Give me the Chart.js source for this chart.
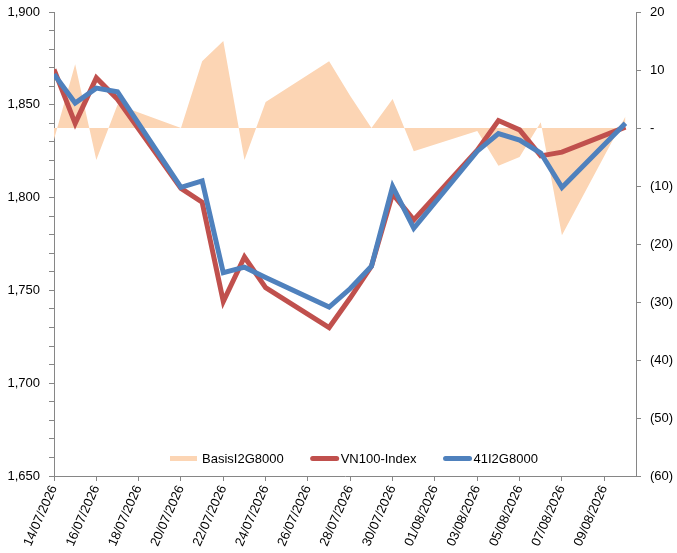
<!DOCTYPE html>
<html>
<head>
<meta charset="utf-8">
<script src="https://cdn.jsdelivr.net/npm/chart.js@4.4.1/dist/chart.umd.min.js"></script>
<style>
  html, body { margin: 0; padding: 0; background: #fff; }
  #wrap { width: 677px; height: 553px; }
</style>
</head>
<body>
<div id="wrap"><canvas id="basisChart" width="677" height="553"></canvas></div>
<script>
// =======================
// Data (trading days only)
// =======================
const tradeDates = [
  "14/07/2026", "15/07/2026", "16/07/2026", "17/07/2026",
  "20/07/2026", "21/07/2026", "22/07/2026", "23/07/2026", "24/07/2026",
  "27/07/2026", "28/07/2026", "29/07/2026", "30/07/2026", "31/07/2026",
  "03/08/2026", "04/08/2026", "05/08/2026", "06/08/2026", "07/08/2026",
  "10/08/2026"
];
const vn100Index = [
  1869, 1840, 1864.5, 1853,
  1805, 1797.5, 1744, 1768, 1751.5,
  1730, 1746, 1763, 1802, 1788,
  1825.5, 1841.5, 1836.5, 1822.5, 1824.5,
  1838
];
const fut41I2G8000 = [
  1866.5, 1851, 1859, 1857,
  1805.5, 1809, 1759.5, 1762.5, 1757,
  1741, 1751, 1763, 1806, 1783.5,
  1825, 1834.5, 1831, 1824, 1805.5,
  1840
];
const basisI2G8000 = [
  -2, 11, -5.5, 4,
  0, 11.5, 15, -5.5, 4.5,
  11.5, 5.5, 0, 5, -4,
  -0.5, -6.5, -5, 1, -18.5,
  2
];
const xTickLabels = [
  "14/07/2026", "16/07/2026", "18/07/2026", "20/07/2026", "22/07/2026",
  "24/07/2026", "26/07/2026", "28/07/2026", "30/07/2026", "01/08/2026",
  "03/08/2026", "05/08/2026", "07/08/2026", "09/08/2026"
];
const seriesNames = ["BasisI2G8000", "VN100-Index", "41I2G8000"];

// =======================
// Helpers
// =======================
function toUTC(s){ const [d,m,y]=s.split("/").map(Number); return Date.UTC(y,m-1,d); }
const baseDay = toUTC(tradeDates[0]);
function dayOffset(s){ return Math.round((toUTC(s)-baseDay)/86400000); }
function toPoints(vals){ return vals.map((v,i)=>({ x: dayOffset(tradeDates[i]), y: v })); }
function fmtRight(v){ return v===0 ? "-" : v<0 ? `(${-v})` : String(v); }
// fixed axis width, and no extra top/bottom padding from the tick labels
function fitY(w){ return s => { s.width = w; s.paddingTop = 0; s.paddingBottom = 0; }; }

const FONT = { family: "'Liberation Sans', Arial, sans-serif", size: 13 };
const AXIS_GREY = "#868686";
const PEACH = "rgb(252,213,180)";
const RED = "#C0504D";
const BLUE = "#4F81BD";

// legend drawn inside the plot, near the bottom
const innerLegend = {
  id: "innerLegend",
  afterDatasetsDraw(chart){
    const ctx = chart.ctx;
    const colors = [PEACH, RED, BLUE];
    let x = 170;
    const y = 458.5;
    ctx.save();
    ctx.font = `${FONT.size}px ${FONT.family}`;
    ctx.textBaseline = "middle";
    seriesNames.forEach((name,i)=>{
      if(i===0){
        ctx.fillStyle = PEACH;
        ctx.fillRect(x, y-2.5, 27, 5);
      } else {
        ctx.strokeStyle = colors[i];
        ctx.lineWidth = 5;
        ctx.lineCap = "round";
        ctx.beginPath(); ctx.moveTo(x+2, y); ctx.lineTo(x+26, y); ctx.stroke();
      }
      ctx.fillStyle = "#000";
      const tx = x + (i===0 ? 32 : 30);
      ctx.fillText(name, tx, y+0.5);
      x = tx + ctx.measureText(name).width + 27;
    });
    ctx.restore();
  }
};

const ctx = document.getElementById("basisChart").getContext("2d");
new Chart(ctx, {
  type: "line",
  data: {
    datasets: [
      { label: seriesNames[0], data: toPoints(basisI2G8000), yAxisID: "y1",
        fill: "origin", backgroundColor: PEACH, borderWidth: 0, pointRadius: 0, order: 3 },
      { label: seriesNames[1], data: toPoints(vn100Index), yAxisID: "y",
        borderColor: RED, borderWidth: 5, pointRadius: 0, fill: false, order: 2 },
      { label: seriesNames[2], data: toPoints(fut41I2G8000), yAxisID: "y",
        borderColor: BLUE, borderWidth: 5, pointRadius: 0, fill: false, order: 1 }
    ]
  },
  options: {
    responsive: false,
    animation: false,
    layout: { padding: { top: 12, left: 0, right: 0, bottom: 0 } },
    plugins: { legend: { display: false }, tooltip: { enabled: false } },
    elements: { line: { tension: 0 } },
    scales: {
      x: {
        type: "linear", min: 0, max: 27.5,
        grid: { drawOnChartArea: false, drawTicks: true, tickLength: 5, color: AXIS_GREY },
        border: { color: AXIS_GREY },
        ticks: {
          stepSize: 2, includeBounds: false, autoSkip: false,
          minRotation: 66, maxRotation: 66, padding: 2,
          font: FONT, color: "#000",
          callback: v => xTickLabels.find(l => dayOffset(l) === v) || ""
        },
        afterFit: s => { s.height = 77; }
      },
      y: {
        position: "left", min: 1650, max: 1900,
        grid: { drawOnChartArea: false, drawTicks: true, tickLength: 5, color: AXIS_GREY },
        border: { color: AXIS_GREY },
        ticks: {
          stepSize: 10, autoSkip: false, padding: 9, font: FONT, color: "#000",
          callback: v => v % 50 === 0 ? v.toLocaleString("en-US") : ""
        },
        afterFit: fitY(54)
      },
      y1: {
        position: "right", min: -60, max: 20,
        grid: { drawOnChartArea: false, drawTicks: true, tickLength: 5, color: AXIS_GREY },
        border: { color: AXIS_GREY },
        ticks: { stepSize: 10, autoSkip: false, padding: 9, font: FONT, color: "#000", callback: fmtRight },
        afterFit: fitY(41)
      }
    }
  },
  plugins: [innerLegend]
});
</script>
</body>
</html>
